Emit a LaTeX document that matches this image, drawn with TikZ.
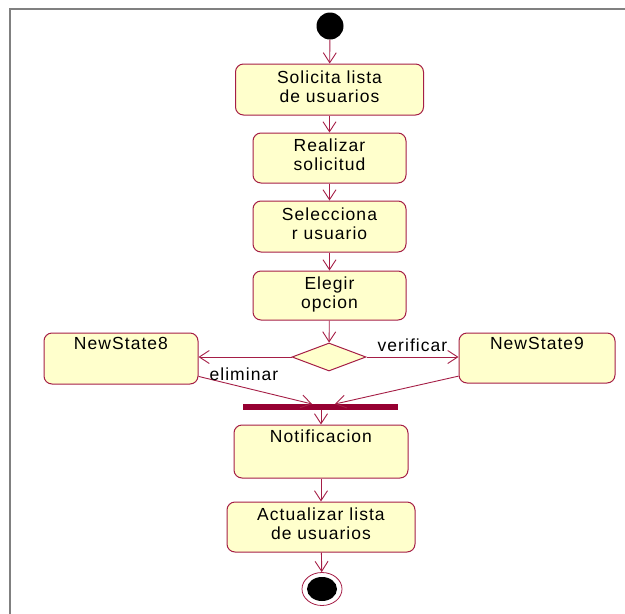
\documentclass[tikz,border=0pt]{standalone}
\usepackage{fontspec}
\setmainfont{Liberation Sans}
\usetikzlibrary{arrows.meta,shapes.geometric}
\definecolor{umlline}{RGB}{165,30,70}
\definecolor{umlfill}{RGB}{255,255,204}
\definecolor{umlbar}{RGB}{150,0,50}
\definecolor{framegray}{RGB}{128,128,128}
\begin{document}
\begin{tikzpicture}[x=1pt,y=-1pt,
  every node/.style={font=\fontsize{17.5}{19}\selectfont\addfontfeature{LetterSpace=6}},
  act/.style={draw=umlline, fill=umlfill, rounded corners=8pt, line width=1pt,
              inner sep=0pt, align=center, text=black},
  twoline/.style={act, text depth=6pt},
  flow/.style={draw=umlline, line width=0.9pt,
               -{Straight Barb[length=10pt,width=13pt,line width=0.9pt]}},
  lbl/.style={text=black, inner sep=1pt}]

\useasboundingbox (0,0) rectangle (625,614);
% diagram frame
\draw[framegray, line width=2pt] (10,614) -- (10,9) -- (625,9);

% initial and final states
\node[circle, fill=black, minimum size=27pt, inner sep=0pt] (start) at (330,26) {};
\node[ellipse, draw=umlline, line width=0.8pt, minimum width=40pt,
      minimum height=33pt, inner sep=0pt] (end) at (322,589) {};
\fill[black] (end.center) ellipse [x radius=15, y radius=12];

% activities
\node[twoline, minimum width=188pt, minimum height=51pt] (a1) at (329.5,89.5) {Solicita lista\\de usuarios};
\node[twoline, minimum width=153pt, minimum height=50pt] (a2) at (329.5,158) {Realizar\\solicitud};
\node[twoline, minimum width=153pt, minimum height=51pt] (a3) at (329.5,226.5) {Selecciona\\r usuario};
\node[twoline, minimum width=153pt, minimum height=49pt] (a4) at (329.5,295.5) {Elegir\\opcion};

\node[diamond, draw=umlline, fill=umlfill, line width=1pt, inner sep=0pt,
      minimum width=74pt, minimum height=28pt] (dec) at (329,357) {};

\node[act, minimum width=154pt, minimum height=51pt,
      label={[lbl, anchor=north, yshift=-4pt]north:NewState8}] (ns8) at (121,358.5) {};
\node[act, minimum width=156pt, minimum height=50pt,
      label={[lbl, anchor=north, yshift=-4pt]north:NewState9}] (ns9) at (537,358) {};

\node[fill=umlbar, minimum width=155pt, minimum height=6.5pt, inner sep=0pt] (bar) at (320.5,407) {};
\coordinate (barL) at (312,404);
\coordinate (barR) at (335,404);

\node[act, minimum width=174pt, minimum height=53pt,
      label={[lbl, anchor=north, yshift=-4pt]north:Notificacion}] (note) at (321,451.5) {};
\node[twoline, minimum width=188pt, minimum height=50pt] (a6) at (321,527) {Actualizar lista\\de usuarios};

% transitions
\draw[flow] (start) -- (a1);
\draw[flow] (a1) -- (a2);
\draw[flow] (a2) -- (a3);
\draw[flow] (a3) -- (a4);
\draw[flow] (a4) -- (dec);
\draw[flow] (dec.west) -- (dec.west -| ns8.east);
\draw[flow] (dec.east) -- (dec.east -| ns9.west)
  node[midway, above, lbl, yshift=4pt] {verificar};
\draw[flow] (ns8.-13.5) -- (barL)
  node[pos=0.4, above, lbl, yshift=5pt] {eliminar};
\draw[flow] (ns9.193.7) -- (barR);
\draw[flow] (bar.south -| note.north) -- (note.north);
\draw[flow] (note) -- (a6);
\draw[flow] (a6) -- (end);
\end{tikzpicture}
\end{document}
